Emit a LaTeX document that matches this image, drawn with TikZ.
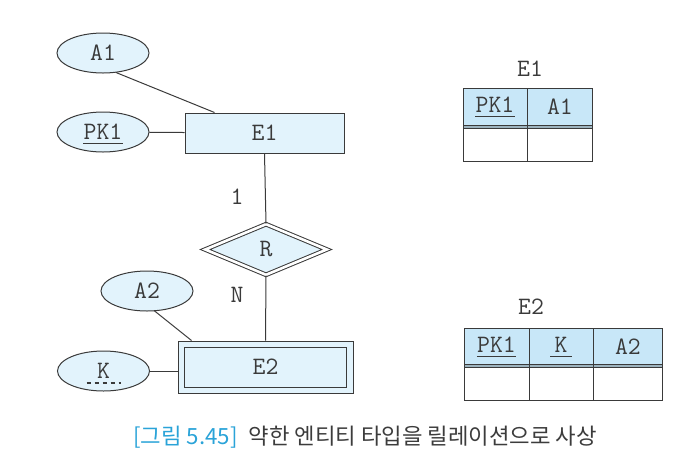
\documentclass[tikz,border=0pt]{standalone}
\usepackage{fontspec}
\newfontfamily\cjk{Noto Sans CJK KR}
\usetikzlibrary{shapes.geometric}
\definecolor{linec}{HTML}{3A3A3A}
\definecolor{txtc}{HTML}{3A3A3A}
\definecolor{fillc}{HTML}{E2F3FC}
\definecolor{headc}{HTML}{C8E7F8}
\definecolor{bandc}{HTML}{9DB3BE}
\definecolor{capblue}{HTML}{2AA3D8}
\definecolor{capgrey}{HTML}{3C3C3C}
\tikzset{
  txt/.style={text=txtc, font=\ttfamily\fontsize{25}{25}\selectfont},
  attr/.style={ellipse, draw=linec, fill=fillc, line width=1pt, minimum width=92pt, minimum height=40pt, inner sep=0pt, txt},
  ent/.style={rectangle, draw=linec, fill=fillc, line width=1pt, inner sep=0pt, txt},
  conn/.style={draw=linec, line width=1pt},
  lbl/.style={inner sep=0pt, txt},
  uline/.style={draw=txtc, line width=1pt},
  hcell/.style={rectangle, draw=linec, fill=headc, line width=0.8pt, inner sep=0pt, txt},
  bcell/.style={rectangle, draw=linec, fill=white, line width=0.8pt, inner sep=0pt},
  band/.style={rectangle, draw=linec, fill=bandc, line width=0.6pt, inner sep=0pt, minimum height=3pt},
}
\begin{document}
\begin{tikzpicture}[x=1pt,y=-1pt]
\useasboundingbox (0,0) rectangle (694,467);
% ER diagram
\node[attr] (a1) at (103,53) {A1};
\node[attr] (pk1) at (103,132) {};
\node[lbl, anchor=base] (pk1t) at (103,139) {PK1};
\draw[uline] ([yshift=-4pt]pk1t.base west) -- ([yshift=-4pt]pk1t.base east);
\node[ent, minimum width=159pt, minimum height=40pt] (e1) at (264.5,133) {E1};
\node[diamond, draw=linec, double=white, double distance=2.6pt, line width=1pt, fill=fillc, minimum width=122pt, minimum height=51pt, inner sep=0pt, txt] (r) at (266,249.5) {R};
\node[attr] (a2) at (147,291) {A2};
\node[attr] (k) at (103.5,371) {};
\node[lbl, anchor=base] (kt) at (103.5,378) {K};
\draw[uline, line width=1.2pt, dash pattern=on 4.5pt off 3.5pt] ([xshift=-17pt,yshift=-5pt]kt.base) -- ([xshift=17pt,yshift=-5pt]kt.base);
\node[ent, minimum width=175pt, minimum height=52pt] (e2) at (265.5,367) {};
\node[ent, minimum width=162pt, minimum height=40pt] (e2i) at (265.5,367) {E2};
\node[lbl] (one) at (237,197) {1};
\node[lbl] (n) at (237,295) {N};
\coordinate (a1s) at (116,72.5);
\draw[conn] (a1s) -- ([xshift=-50pt]e1.north);
\draw[conn] (pk1) -- (e1);
\draw[conn] (e1.south) -- (r.north);
\draw[conn] (r.south) -- (e2.north);
\coordinate (a2s) at (154,310.5);
\draw[conn] (a2s) -- ([xshift=-74pt]e2.north);
\draw[conn] (k.east) -- (e2.west |- k.east);
% Table E1
\node[lbl] (t1) at (530,69) {E1};
\node[hcell, minimum width=64pt, minimum height=37pt, anchor=north west] (t1a) at (463,88) {};
\node[hcell, minimum width=65pt, minimum height=37pt, anchor=north west] (t1b) at (527,88) {A1};
\node[lbl, anchor=base] (t1at) at (495,112) {PK1};
\draw[uline] ([yshift=-4pt]t1at.base west) -- ([yshift=-4pt]t1at.base east);
\node[band, minimum width=64pt, anchor=north west] (t1ab) at (463,125) {};
\node[band, minimum width=65pt, anchor=north west] (t1bb) at (527,125) {};
\node[bcell, minimum width=64pt, minimum height=33pt, anchor=north west] (t1c) at (463,128) {};
\node[bcell, minimum width=65pt, minimum height=33pt, anchor=north west] (t1d) at (527,128) {};
% Table E2
\node[lbl] (t2) at (531,307) {E2};
\node[hcell, minimum width=65pt, minimum height=36pt, anchor=north west] (t2a) at (464,328) {};
\node[hcell, minimum width=64pt, minimum height=36pt, anchor=north west] (t2b) at (529,328) {};
\node[hcell, minimum width=69pt, minimum height=36pt, anchor=north west] (t2c) at (593,328) {A2};
\node[lbl, anchor=base] (t2at) at (496.5,352) {PK1};
\draw[uline] ([yshift=-4pt]t2at.base west) -- ([yshift=-4pt]t2at.base east);
\node[lbl, anchor=base] (t2bt) at (561,352) {K};
\draw[uline] ([xshift=-4pt,yshift=-4pt]t2bt.base west) -- ([xshift=4pt,yshift=-4pt]t2bt.base east);
\node[band, minimum width=65pt, anchor=north west] (t2ab) at (464,364) {};
\node[band, minimum width=64pt, anchor=north west] (t2bb) at (529,364) {};
\node[band, minimum width=69pt, anchor=north west] (t2cb) at (593,364) {};
\node[bcell, minimum width=65pt, minimum height=33pt, anchor=north west] (t2d) at (464,367) {};
\node[bcell, minimum width=64pt, minimum height=33pt, anchor=north west] (t2e) at (529,367) {};
\node[bcell, minimum width=69pt, minimum height=33pt, anchor=north west] (t2f) at (593,367) {};
% caption
\node[inner sep=0pt, anchor=west, font=\cjk\fontsize{22.3}{22.3}\selectfont] (cap) at (133,437) {\textcolor{capblue}{[그림 5.45]}\hspace{0.5em}\textcolor{capgrey}{약한 엔티티 타입을 릴레이션으로 사상}};
\end{tikzpicture}
\end{document}
